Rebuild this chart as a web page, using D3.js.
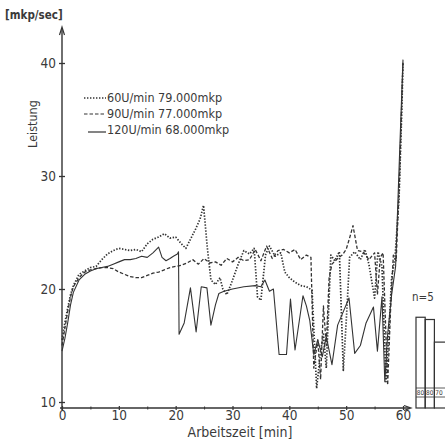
<!DOCTYPE html>
<html><head><meta charset="utf-8">
<script src="https://cdn.jsdelivr.net/npm/d3@7"></script>
<style>
html,body{margin:0;padding:0;background:#fff;}
svg{display:block;}
text{font-family:"Liberation Sans Narrow","DejaVu Sans Condensed","Arial Narrow",sans-serif;fill:#3a3a3a;}
</style></head>
<body>
<svg id="c" width="445" height="443"></svg>
<script>
// ---- data ----
const t60 = [0,0.5,1,1.5,2,3,4,5,6,7,8,9,10,11,12,13,14,15,16,17,18,19,20,21,21.8,22.5,23.5,24.3,24.9,25.5,26.2,27.0,27.8,28.3,29.0,29.8,31.0,32.0,33.0,33.8,34.4,35.0,35.8,36.5,37.5,38.5,39.2,40.0,41.0,42.0,43.0,44.0,44.8,45.5,46.0,46.5,47.3,48.0,48.8,49.5,50.0,50.6,51.5,52.5,53.3,54.0,55.0,55.6,56.3,57.0,57.5,58.0,58.6,59.3,59.8,60.0];
const v60 = [15.5,17,18.3,19.5,20.3,21.3,21.6,21.9,22.0,22.6,23.1,23.4,23.6,23.5,23.4,23.5,23.3,24.0,24.4,24.6,24.9,24.5,24.6,24.0,23.6,24.3,25.3,26.2,27.4,24.0,20.8,20.4,21.0,20.0,19.5,20.5,22.2,23.4,23.1,23.6,19.3,19.0,23.0,23.8,22.9,23.2,21.5,21.0,20.6,20.3,20.2,19.9,11.2,14.5,16.0,13.0,23.0,22.5,23.3,12.8,17.0,22.8,23.3,22.6,23.5,22.2,19.2,23.3,22.0,11.8,16.0,21.0,22.8,28.0,36.0,40.0];

const t90 = [0,0.5,1,1.5,2,3,4,5,6,7,8,9,10,11,12,13,14,15,16,17,18,19,20,21,22,23,24,25,26,27,28,29,30,31,32,33,34,35,36,37,38,39,40,41,42,43,43.8,44.3,45.0,45.5,46.0,46.5,47.0,47.5,48.5,49.3,50.0,50.6,51.2,52.0,53.0,54.0,55.0,55.5,56.0,56.5,57.3,57.8,58.3,58.8,59.4,60.0];
const v90 = [15.0,16.5,18.0,19.3,20.2,21.0,21.5,21.7,21.8,21.9,21.9,21.8,21.5,21.3,21.1,21.0,21.0,21.2,21.4,21.5,21.7,21.9,22.0,22.1,22.3,22.6,22.2,22.7,22.3,22.4,22.1,22.7,22.4,22.8,22.5,22.6,23.5,22.5,23.8,22.7,23.4,23.5,23.2,23.5,22.6,23.0,22.8,13.0,15.5,12.0,18.5,15.0,21.0,22.2,22.7,23.0,23.5,24.5,25.6,23.4,23.3,22.6,23.2,19.5,22.8,23.2,11.5,18.0,23.0,22.5,30.0,40.2];

const t120 = [0,0.5,1,1.5,2,3,4,5,6,7,8,9,10,11,12,13,14,15,16,17,17.6,18.3,19,19.6,20.3,20.5,20.6,21.5,22.6,23.6,24.5,25.5,26.2,27.0,27.6,28.5,30,32,34,35,35.7,36.5,37.2,38.2,39.5,40.2,41.0,42.4,43.0,43.6,44.3,45.0,45.8,46.5,47.5,48.5,49.5,50.5,51.5,52.5,53.5,54.8,55.5,56.3,56.8,57.3,58.0,58.7,59.4,60.0];
const v120 = [14.5,15.6,17.0,18.6,19.7,20.8,21.3,21.6,21.8,21.9,22.0,22.2,22.4,22.6,22.6,22.7,22.9,22.8,23.2,23.7,22.8,22.5,22.7,22.9,23.1,23.3,16.0,17.0,20.1,16.2,20.2,20.1,16.8,18.6,19.6,19.8,20.0,20.2,20.3,20.2,20.8,19.8,20.0,14.2,14.2,19.1,14.6,19.4,18.5,17.2,14.2,15.5,14.0,15.8,13.3,16.8,18.0,19.2,14.3,15.0,17.0,18.4,14.5,19.3,11.8,16.0,19.5,22.0,32.0,40.3];

const legendLabels = ["60U/min  79.000mkp","90U/min  77.000mkp","120U/min  68.000mkp"];
const xTicks = [0,10,20,30,40,50,60];
const xMinorTicks = [5,15,25,35,45,55];
const yTicks = [10,20,30,40];
const barValues = [17.5,17.3,15.3];
const barLabels = ["80","80","70"];

// ---- chart ----
const svg = d3.select("#c");
const ink = "#333";
const x = d3.scaleLinear().domain([0,60]).range([62,403]);
const y = d3.scaleLinear().domain([10,40]).range([402,63]);
const axisY = 408;
const ff = '"Liberation Sans Narrow","DejaVu Sans Condensed",sans-serif';

const gx = svg.append("g").attr("transform",`translate(0,${axisY})`)
  .call(d3.axisBottom(x).tickValues(xTicks).tickSize(3).tickPadding(2).tickFormat(d3.format("d")));
gx.select(".domain").remove();
gx.selectAll(".tick line").attr("stroke",ink).attr("y1",-2).attr("y2",2).attr("stroke-width",1.2);
gx.selectAll(".tick text").attr("font-size",13.5).attr("fill","#3a3a3a").attr("dy","0.55em").style("font-family",ff);
const gxm = svg.append("g").attr("transform",`translate(0,${axisY})`)
  .call(d3.axisBottom(x).tickValues(xMinorTicks).tickSize(2).tickFormat(""));
gxm.select(".domain").remove();
gxm.selectAll(".tick line").attr("stroke",ink).attr("y1",-1.5).attr("y2",1.5);

const gy = svg.append("g").attr("transform","translate(62,0)")
  .call(d3.axisLeft(y).tickValues(yTicks).tickSize(3).tickPadding(3).tickFormat(d3.format("d")));
gy.select(".domain").remove();
gy.selectAll(".tick line").attr("stroke",ink).attr("x1",-3).attr("x2",3).attr("stroke-width",1.3);
gy.selectAll(".tick text").attr("font-size",13.5).attr("fill","#3a3a3a").style("font-family",ff);

svg.append("line").attr("x1",60).attr("x2",410).attr("y1",axisY).attr("y2",axisY).attr("stroke",ink).attr("stroke-width",1.4);
svg.append("path").attr("d",`M404,${axisY-2.5} L411,${axisY} L404,${axisY+2.5}`).attr("fill","none").attr("stroke",ink).attr("stroke-width",1.2);
svg.append("line").attr("x1",62).attr("x2",62).attr("y1",axisY+2).attr("y2",28).attr("stroke",ink).attr("stroke-width",1.4);
svg.append("path").attr("d","M59.5,35 L62,27 L64.5,35").attr("fill","none").attr("stroke",ink).attr("stroke-width",1.2);

svg.append("text").attr("x",5).attr("y",19).attr("font-size",11.5).attr("font-weight","600").attr("fill","#3a3a3a").text("[mkp/sec]");
svg.append("text").attr("transform","translate(37,124) rotate(-90)").attr("text-anchor","middle").attr("font-size",12.5).text("Leistung");
svg.append("text").attr("x",240).attr("y",437).attr("text-anchor","middle").attr("font-size",14).text("Arbeitszeit [min]");

const line = d3.line().x(d=>x(d[0])).y(d=>y(d[1]));
const series = [
  {t:t90, v:v90, dash:"3.5,2", w:1.3},
  {t:t120, v:v120, dash:null, w:1.1},
  {t:t60, v:v60, dash:"1.4,1.6", w:1.7},
];
series.forEach(s=>{
  const pts = s.t.map((t,i)=>[t,s.v[i]]);
  const p = svg.append("path").datum(pts).attr("d",line).attr("fill","none")
    .attr("stroke",ink).attr("stroke-width",s.w).attr("stroke-linejoin","round");
  if(s.dash) p.attr("stroke-dasharray",s.dash);
});

const legY = [97,113,129];
const legDash = ["1.4,1.6","3.5,2",null];
legendLabels.forEach((lab,i)=>{
  const ly = legY[i] + (i===2?3:1);
  const l = svg.append("line").attr("x1",i===2?88:84).attr("x2",106).attr("y1",ly).attr("y2",ly)
    .attr("stroke",ink).attr("stroke-width",i===0?1.7:1.2);
  if(legDash[i]) l.attr("stroke-dasharray",legDash[i]);
  svg.append("text").attr("x",107).attr("y",legY[i]+4.5).attr("font-size",12.5).text(lab);
});

const bw = 9.2;
barValues.forEach((v,i)=>{
  const x0 = 416 + i*bw;
  svg.append("rect").attr("x",x0).attr("y",y(v)).attr("width",i===2?40:bw).attr("height",axisY-y(v))
    .attr("fill","none").attr("stroke",ink).attr("stroke-width",1.2);
  svg.append("text").attr("x",x0+bw/2).attr("y",395).attr("text-anchor","middle").attr("font-size",6.5).text(barLabels[i]);
});
svg.append("line").attr("x1",416).attr("x2",445).attr("y1",388).attr("y2",388).attr("stroke",ink).attr("stroke-width",0.8);
svg.append("line").attr("x1",416).attr("x2",445).attr("y1",397).attr("y2",397).attr("stroke",ink).attr("stroke-width",0.8);
svg.append("text").attr("x",412).attr("y",301).attr("font-size",11.5).text("n=5");
</script>
</body></html>
